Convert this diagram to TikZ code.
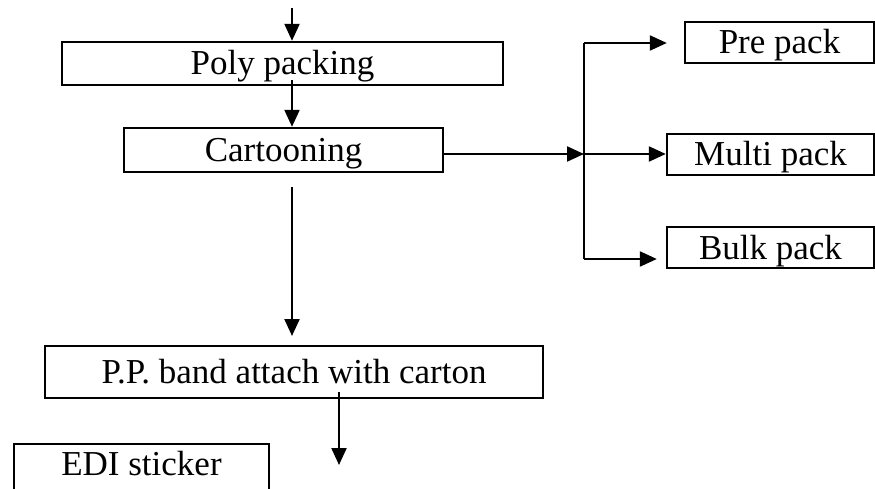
\documentclass[tikz,border=0pt]{standalone}
\usepackage{fontspec}
\setmainfont{Liberation Serif}
\usetikzlibrary{arrows.meta}
\begin{document}
\begin{tikzpicture}[x=1pt,y=-1pt,
 box/.style={draw, line width=2.4pt, inner sep=0pt, text height=23pt, text depth=0pt, font=\fontsize{35}{40}\selectfont},
 arr/.style={line width=2.2pt, -{Triangle[length=17pt,width=15pt]}},
 ln/.style={line width=2.2pt}]
\clip (0,0) rectangle (875,489);
\useasboundingbox (0,0) rectangle (875,489);
\node[box, minimum width=441, minimum height=43] (poly) at (282.5,63.5) {Poly packing};
\node[box, minimum width=319, minimum height=44] (cart) at (283.5,150) {Cartooning};
\node[box, minimum width=498, minimum height=52] (pp) at (294,372) {P.P. band attach with carton};
\node[box, minimum width=255, anchor=north, text height=31pt, text depth=30pt] (edi) at (141.5,443) {EDI sticker};
\node[box, minimum width=189, minimum height=41] (pre) at (779.5,42.5) {Pre pack};
\node[box, minimum width=207, minimum height=41] (multi) at (770.5,154.5) {Multi pack};
\node[box, minimum width=207, minimum height=41] (bulk) at (770.5,247.5) {Bulk pack};
\coordinate (top) at (292,8);
\coordinate (p1) at (292,80);
\coordinate (c1) at (292,187);
\coordinate (c2) at (292,336);
\coordinate (pp1) at (339,392);
\coordinate (e1) at (339,465);
\coordinate (j) at (584,154);
\coordinate (jt) at (584,43);
\coordinate (jb) at (584,259);
\draw[arr] (top) -- (top |- poly.north);
\draw[arr] (p1) -- (p1 |- cart.north);
\draw[arr] (c1) -- (c2);
\draw[arr] (pp1) -- (e1);
\draw[arr] (cart.east |- j) -- (j);
\draw[ln] (jt) -- (jb);
\draw[arr, shorten >=17pt] (jt) -- (pre.west |- jt);
\draw[arr] (j) -- (multi.west |- j);
\draw[arr, shorten >=9pt] (jb) -- (bulk.west |- jb);
\end{tikzpicture}
\end{document}
